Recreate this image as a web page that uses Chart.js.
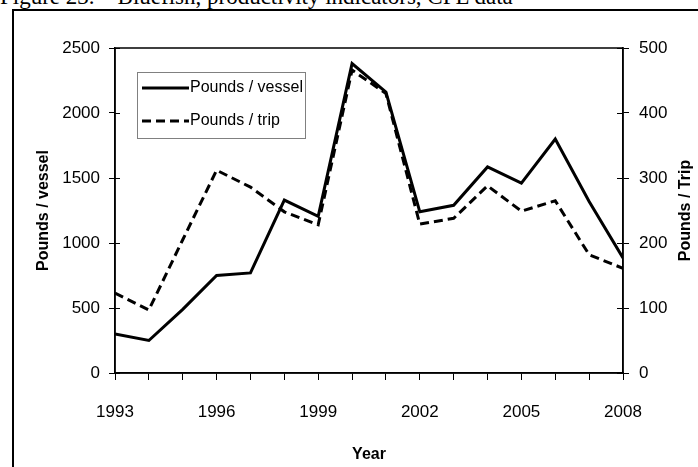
<!DOCTYPE html>
<html>
<head>
<meta charset="utf-8">
<script src="https://cdn.jsdelivr.net/npm/chart.js@4/dist/chart.umd.min.js"></script>
<style>
  html, body { margin: 0; padding: 0; background: #fff; }
  #wrap { position: relative; width: 698px; height: 467px; overflow: hidden; background: #fff; }
  #fig { position: absolute; left: 0; top: -16px; font-family: "Liberation Serif", "Times New Roman", serif; font-size: 23px; color: #000; white-space: nowrap; }
  canvas { position: absolute; left: 0; top: 0; }
</style>
</head>
<body>
<div id="wrap">
  <div id="fig">Figure 23. – Bluefish, productivity indicators, CFL data</div>
  <canvas id="c" width="698" height="467"></canvas>
</div>
<script>
const years = [1993,1994,1995,1996,1997,1998,1999,2000,2001,2002,2003,2004,2005,2006,2007,2008];
const poundsPerVessel = [300,250,490,750,770,1330,1205,2380,2160,1240,1290,1585,1460,1800,1320,885];
const poundsPerTrip = [123,97,205,312,286,248,228,466,430,229,238,288,249,265,182,161];
const leftTicks = [0,500,1000,1500,2000,2500];
const rightTicks = [0,100,200,300,400,500];
const xLabelYears = [1993,1996,1999,2002,2005,2008];

const FONT = '"Liberation Sans", Arial, sans-serif';

const framePlugin = {
  id: 'frame',
  beforeDraw(chart) {
    const ctx = chart.ctx;
    ctx.save();
    ctx.strokeStyle = '#000';
    ctx.lineWidth = 2;
    ctx.beginPath();
    ctx.moveTo(13, 467);
    ctx.lineTo(13, 10);
    ctx.lineTo(698, 10);
    ctx.stroke();
    ctx.restore();
  },
  afterDraw(chart) {
    const ctx = chart.ctx;
    const a = chart.chartArea;
    ctx.save();
    ctx.strokeStyle = '#000';
    ctx.lineWidth = 1.5;
    ctx.strokeRect(a.left, a.top, a.right - a.left, a.bottom - a.top);
    // inward halves of crossing ticks
    const yl = chart.scales.y, yr = chart.scales.y2;
    ctx.lineWidth = 1;
    ctx.beginPath();
    leftTicks.forEach(v => { const p = Math.round(yl.getPixelForValue(v)) + 0.5; ctx.moveTo(a.left, p); ctx.lineTo(a.left + 5, p); });
    rightTicks.forEach(v => { const p = Math.round(yr.getPixelForValue(v)) + 0.5; ctx.moveTo(a.right, p); ctx.lineTo(a.right - 6, p); });
    ctx.stroke();
    // right axis title, reading bottom to top
    ctx.save();
    ctx.translate(686, (a.top + a.bottom) / 2);
    ctx.rotate(-Math.PI / 2);
    ctx.fillStyle = '#000';
    ctx.font = 'bold 16px ' + FONT;
    ctx.textAlign = 'center';
    ctx.textBaseline = 'middle';
    ctx.fillText('Pounds / Trip', 0, 0);
    ctx.restore();
    // legend
    const bx = 137, by = 72, bw = 168, bh = 66;
    ctx.fillStyle = '#fff';
    ctx.fillRect(bx, by, bw, bh);
    ctx.strokeStyle = '#808080';
    ctx.lineWidth = 1;
    ctx.strokeRect(bx + 0.5, by + 0.5, bw, bh);
    const items = chart.data.datasets;
    const rows = [88, 121];
    items.forEach((ds, i) => {
      ctx.strokeStyle = ds.borderColor;
      ctx.lineWidth = ds.borderWidth;
      ctx.setLineDash(ds.borderDash || []);
      ctx.beginPath();
      ctx.moveTo(142, rows[i]);
      ctx.lineTo(189, rows[i]);
      ctx.stroke();
      ctx.setLineDash([]);
      ctx.fillStyle = '#000';
      ctx.font = '16px ' + FONT;
      ctx.textBaseline = 'middle';
      ctx.textAlign = 'left';
      ctx.fillText(ds.label, 190, rows[i]);
    });
    ctx.restore();
  }
};

new Chart(document.getElementById('c'), {
  type: 'line',
  data: {
    datasets: [
      {
        label: 'Pounds / vessel',
        data: years.map((y, i) => ({ x: y, y: poundsPerVessel[i] })),
        borderColor: '#000',
        borderWidth: 3,
        pointRadius: 0,
        tension: 0,
        yAxisID: 'y'
      },
      {
        label: 'Pounds / trip',
        data: years.map((y, i) => ({ x: y, y: poundsPerTrip[i] })),
        borderColor: '#000',
        borderWidth: 3,
        borderDash: [9, 5],
        pointRadius: 0,
        tension: 0,
        yAxisID: 'y2'
      }
    ]
  },
  options: {
    responsive: false,
    animation: false,
    layout: { padding: { top: 48, left: 0, right: 0, bottom: 0 } },
    plugins: { legend: { display: false }, tooltip: { enabled: false } },
    scales: {
      x: {
        type: 'linear',
        min: 1993, max: 2008,
        afterFit(s) { s.height = 94; },
        ticks: {
          stepSize: 1, autoSkip: false, maxRotation: 0, color: '#000', padding: 22,
          font: { family: FONT, size: 17 },
          callback: v => xLabelYears.includes(v) ? String(v) : ''
        },
        grid: { drawOnChartArea: false, tickLength: 7, color: '#000' },
        border: { color: '#000', width: 1.5 },
        title: { display: true, text: 'Year', color: '#000', font: { family: FONT, size: 16, weight: 'bold' }, padding: { top: 0, bottom: 2.4 } }
      },
      y: {
        position: 'left',
        min: 0, max: 2500,
        afterFit(s) { s.width = 115; },
        afterBuildTicks(s) { s.ticks = leftTicks.map(v => ({ value: v })); },
        ticks: { color: '#000', padding: 9, font: { family: FONT, size: 17 }, callback: v => String(v) },
        grid: { drawOnChartArea: false, tickLength: 6, color: '#000' },
        border: { color: '#000', width: 1.5 },
        title: { display: true, text: 'Pounds / vessel', color: '#000', font: { family: FONT, size: 16, weight: 'bold' }, padding: { top: 34.4, bottom: 0 } }
      },
      y2: {
        position: 'right',
        min: 0, max: 500,
        afterFit(s) { s.width = 75; },
        afterBuildTicks(s) { s.ticks = rightTicks.map(v => ({ value: v })); },
        ticks: { color: '#000', padding: 10, font: { family: FONT, size: 17 }, callback: v => String(v) },
        grid: { drawOnChartArea: false, tickLength: 6, color: '#000' },
        border: { color: '#000', width: 1.5 },
        title: { display: false }
      }
    }
  },
  plugins: [framePlugin]
});
</script>
</body>
</html>
